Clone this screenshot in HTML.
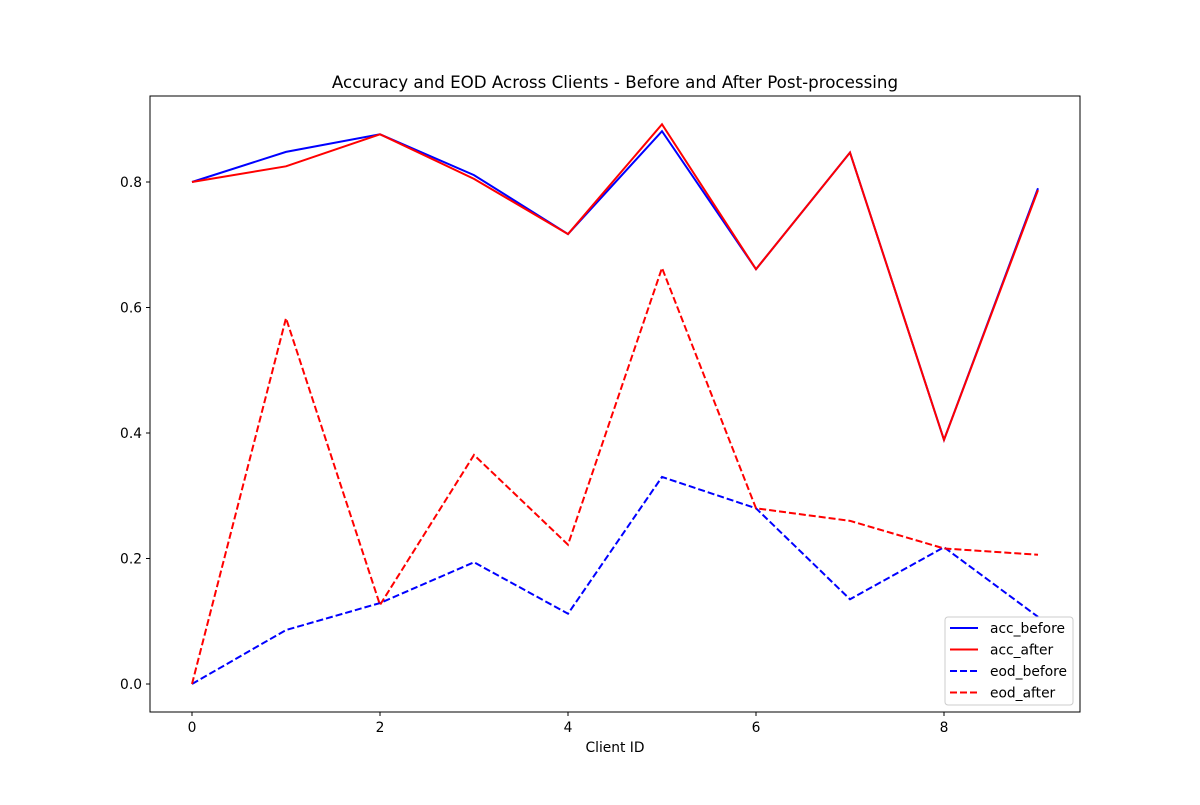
<!DOCTYPE html>
<html><head><meta charset="utf-8"><style>
body{margin:0;background:#fff;}
svg text{font-family:"DejaVu Sans","Liberation Sans",sans-serif;fill:#000;}
</style></head><body>
<svg id="chart" width="1200" height="800" xmlns="http://www.w3.org/2000/svg">
<rect width="1200" height="800" fill="#fff"/>
<text x="615" y="88" font-size="16.7" text-anchor="middle">Accuracy and EOD Across Clients - Before and After Post-processing</text>
<g id="ticks"></g>
<g id="lines"></g>
<rect x="150" y="96" width="930" height="616" fill="none" stroke="#000" stroke-width="1"/>
<text x="615" y="752" font-size="13.8" text-anchor="middle">Client ID</text>
<g id="legend"></g>
</svg>
<script>
const clients=[0,1,2,3,4,5,6,7,8,9];
const accBefore=[0.80,0.848,0.876,0.811,0.717,0.881,0.661,0.847,0.389,0.790];
const accAfter=[0.80,0.825,0.876,0.805,0.717,0.892,0.661,0.847,0.389,0.787];
const eodBefore=[0.0,0.086,0.129,0.194,0.112,0.330,0.280,0.135,0.218,0.107];
const eodAfter=[0.0,0.583,0.126,0.365,0.222,0.663,0.280,0.260,0.216,0.206];
const xTicks=[0,2,4,6,8];
const yTicks=[0.0,0.2,0.4,0.6,0.8];
const NS="http://www.w3.org/2000/svg";
const sx=v=>192+v*94;
const sy=v=>684-v*627.5;
function mk(tag,attrs,parent){const e=document.createElementNS(NS,tag);for(const k in attrs)e.setAttribute(k,attrs[k]);parent.appendChild(e);return e;}
const tk=document.getElementById('ticks');
xTicks.forEach(t=>{
  const l=mk('line',{x1:sx(t),x2:sx(t),y1:712,y2:716,stroke:'#000'},tk);
  
  
  const tx=mk('text',{x:sx(t),y:732,'font-size':13.8,'text-anchor':'middle'},tk);
  tx.textContent=t;
  
  
});
yTicks.forEach(t=>{
  const l=mk('line',{x1:146,x2:150,y1:sy(t),y2:sy(t),stroke:'#000'},tk);
  
  
  const tx=mk('text',{x:142,y:sy(t)+5,'font-size':13.8,'text-anchor':'end'},tk);
  tx.textContent=t.toFixed(1);
  
  
});
const series=[
 {name:'acc_before',data:accBefore,color:'#0000ff',dash:''},
 {name:'acc_after',data:accAfter,color:'#ff0000',dash:''},
 {name:'eod_before',data:eodBefore,color:'#0000ff',dash:'7,3'},
 {name:'eod_after',data:eodAfter,color:'#ff0000',dash:'7,3'}
];
const lg=document.getElementById('lines');
series.forEach(s=>{
  const p=mk('polyline',{points:s.data.map((v,i)=>sx(clients[i])+','+sy(v)).join(' '),fill:'none',stroke:s.color,'stroke-width':2,'stroke-dasharray':s.dash},lg);
  
  
});
const leg=document.getElementById('legend');
mk('rect',{x:945,y:617,width:128,height:88,rx:3,fill:'#fff',stroke:'#ccc'},leg);
series.forEach((s,i)=>{
  const y=628+i*21.5;
  const l=mk('line',{x1:950,x2:978,y1:y,y2:y,stroke:s.color,'stroke-width':2,'stroke-dasharray':s.dash},leg);
  
  
  const t=mk('text',{x:990,y:y+5,'font-size':13.8},leg);
  t.textContent=s.name;
  
  
});
</script>
</body></html>
